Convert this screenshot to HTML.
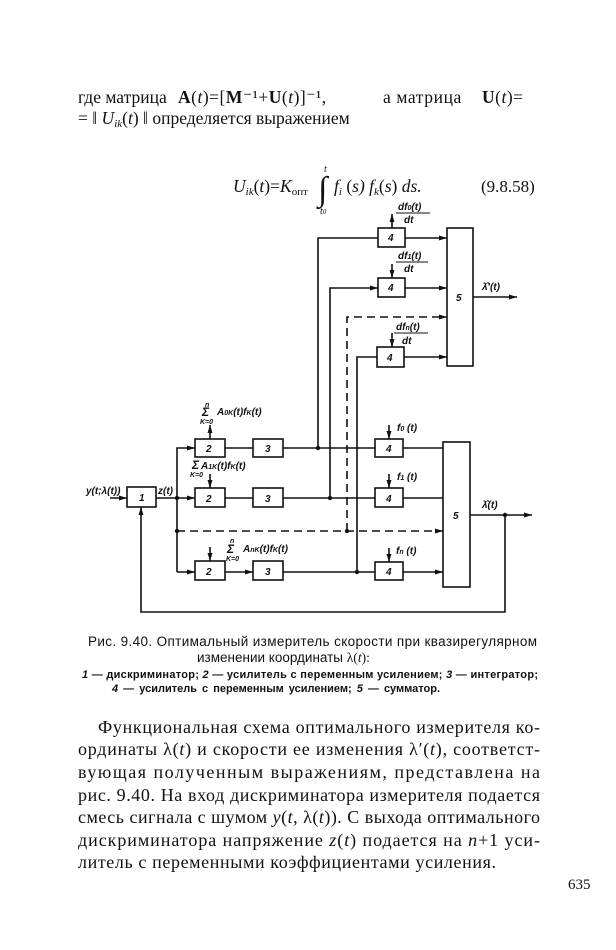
<!DOCTYPE html>
<html><head><meta charset="utf-8"><style>
html,body{margin:0;padding:0;background:#fff}
svg{display:block}
.t{font-family:"Liberation Serif",serif;fill:#111}
.s{font-family:"Liberation Sans",sans-serif;fill:#111}
.i{font-family:"Liberation Sans",sans-serif;font-style:italic;font-weight:bold;fill:#111;font-size:10px}
</style></head><body>
<svg width="616" height="950" viewBox="0 0 616 950" xmlns="http://www.w3.org/2000/svg">
<defs><marker id="a" markerWidth="8" markerHeight="6" refX="8" refY="3" orient="auto" markerUnits="userSpaceOnUse"><path d="M0,0.5 L8,3 L0,5.5z" fill="#111"/></marker></defs>
<g class="t" font-size="17.5">
<text x="78" y="103">где матрица</text>
<text x="178" y="103" letter-spacing="0.5"><tspan font-weight="bold">A</tspan>(<tspan font-style="italic">t</tspan>)=[<tspan font-weight="bold">M</tspan>⁻¹+<tspan font-weight="bold">U</tspan>(<tspan font-style="italic">t</tspan>)]⁻¹,</text>
<text x="383" y="103" letter-spacing="0.6">а  матрица</text>
<text x="482" y="103" letter-spacing="0.5"><tspan font-weight="bold">U</tspan>(<tspan font-style="italic">t</tspan>)=</text>
<text x="78" y="124">= ‖ <tspan font-style="italic">U</tspan><tspan font-size="11" font-style="italic" dy="3">ik</tspan><tspan dy="-3">(</tspan><tspan font-style="italic">t</tspan>) ‖   определяется выражением</text>
</g>
<text class="t" x="233" y="192" font-size="17.5"><tspan font-style="italic">U</tspan><tspan font-size="11" font-style="italic" dy="3">ik</tspan><tspan dy="-3">(</tspan><tspan font-style="italic">t</tspan>)=<tspan font-style="italic">K</tspan><tspan font-size="11" dy="3">опт</tspan></text>
<text class="t" x="334" y="192" font-size="17.5" font-style="italic">f<tspan font-size="11" dy="3">i</tspan><tspan dy="-3" font-style="normal"> (</tspan>s) f<tspan font-size="11" dy="3">k</tspan><tspan dy="-3" font-style="normal">(</tspan>s<tspan font-style="normal">)</tspan> ds.</text>
<text class="t" x="318" y="200" font-size="34">∫</text>
<text class="t" x="324" y="172" font-size="10" font-style="italic">t</text>
<text class="t" x="320" y="214" font-size="10" font-style="italic">t<tspan font-size="7">0</tspan></text>
<text class="t" x="481" y="192" font-size="17">(9.8.58)</text>
<g stroke="#111" stroke-width="1.6" fill="none">
<rect x="378" y="228" width="27" height="19"/>
<rect x="378" y="278" width="27" height="19"/>
<rect x="377" y="347" width="27" height="20"/>
<rect x="447" y="228" width="26" height="138"/>
<rect x="127" y="487" width="29" height="20"/>
<rect x="195" y="439" width="30" height="18"/>
<rect x="195" y="488" width="30" height="19"/>
<rect x="195" y="561" width="30" height="19"/>
<rect x="253" y="439" width="30" height="18"/>
<rect x="253" y="488" width="30" height="19"/>
<rect x="253" y="561" width="30" height="19"/>
<rect x="375" y="439" width="28" height="18"/>
<rect x="375" y="488" width="28" height="19"/>
<rect x="375" y="562" width="28" height="18"/>
<rect x="443" y="442" width="27" height="145"/>
<path d="M318 448 V238 H378"/>
<path d="M405 238 H447" marker-end="url(#a)"/>
<path d="M330 498 V288 H378" marker-end="url(#a)"/>
<path d="M405 288 H447" marker-end="url(#a)"/>
<path d="M347 531 V317 H447" stroke-dasharray="8,5" marker-end="url(#a)"/>
<path d="M357 572 V357 H377"/>
<path d="M404 357 H447" marker-end="url(#a)"/>
<path d="M473 297 H517" marker-end="url(#a)"/>
<path d="M392 228 V214" marker-end="url(#a)"/>
<path d="M392 264 V278" marker-end="url(#a)"/>
<path d="M392 333 V347" marker-end="url(#a)"/>
<path d="M110 498 H127" marker-end="url(#a)"/>
<path d="M156 498 H195" marker-end="url(#a)"/>
<path d="M177 572 V448 H195" marker-end="url(#a)"/>
<path d="M177 572 H195" marker-end="url(#a)"/>
<path d="M177 531 H443" stroke-dasharray="8,5" marker-end="url(#a)"/>
<path d="M225 448 H253 M225 498 H253"/>
<path d="M225 572 H253" marker-end="url(#a)"/>
<path d="M283 448 H375 M283 498 H375 M283 572 H375"/>
<path d="M403 448 H443 M403 498 H443 M403 572 H443" marker-end="url(#a)"/>
<path d="M470 515 H532" marker-end="url(#a)"/>
<path d="M505 515 V612 H141 V507" marker-end="url(#a)"/>
<path d="M210 439 V425" marker-end="url(#a)"/>
<path d="M210 474 V488" marker-end="url(#a)"/>
<path d="M210 547 V561" marker-end="url(#a)"/>
<path d="M389 425 V439" marker-end="url(#a)"/>
<path d="M389 474 V488" marker-end="url(#a)"/>
<path d="M389 548 V562" marker-end="url(#a)"/>
</g>
<g fill="#111"><circle cx="318" cy="448" r="2.2"/><circle cx="330" cy="498" r="2.2"/><circle cx="347" cy="531" r="2.2"/><circle cx="357" cy="572" r="2.2"/><circle cx="177" cy="498" r="2.2"/><circle cx="177" cy="531" r="2.2"/><circle cx="505" cy="515" r="2.2"/></g>
<g class="i">
<text x="388" y="241">4</text><text x="388" y="291">4</text><text x="387" y="361">4</text><text x="456" y="301">5</text>
<text x="139" y="501">1</text><text x="206" y="452">2</text><text x="206" y="502">2</text><text x="206" y="575">2</text>
<text x="265" y="452">3</text><text x="265" y="502">3</text><text x="265" y="575">3</text>
<text x="386" y="452">4</text><text x="386" y="502">4</text><text x="386" y="575">4</text><text x="453" y="519">5</text>
<text x="398" y="210">df<tspan font-size="7">0</tspan>(t)</text><path d="M396 213 H430" stroke="#111"/><text x="404" y="223">dt</text>
<text x="398" y="259">df<tspan font-size="7">1</tspan>(t)</text><path d="M396 262 H428" stroke="#111"/><text x="404" y="272">dt</text>
<text x="396" y="330">df<tspan font-size="7">n</tspan>(t)</text><path d="M394 333 H428" stroke="#111"/><text x="402" y="344">dt</text>
<text x="482" y="290">λ̂′(t)</text><text x="482" y="508">λ̂(t)</text>
<text x="86" y="494">y(t;λ(t))</text><text x="158" y="494">z(t)</text>
<text x="397" y="431">f<tspan font-size="7">0</tspan> (t)</text><text x="397" y="480">f<tspan font-size="7">1</tspan> (t)</text><text x="396" y="554">f<tspan font-size="7">n</tspan> (t)</text>
<text x="205" y="407" font-size="7">n</text><text x="202" y="416" font-size="12">Σ</text><text x="217" y="415">A<tspan font-size="7">0K</tspan>(t)f<tspan font-size="7">K</tspan>(t)</text><text x="200" y="424" font-size="7">K=0</text>
<text x="192" y="469" font-size="12">Σ</text><text x="201" y="469">A<tspan font-size="7">1K</tspan>(t)f<tspan font-size="7">K</tspan>(t)</text><text x="190" y="477" font-size="7">K=0</text>
<text x="230" y="543" font-size="7">n</text><text x="227" y="553" font-size="12">Σ</text><text x="243" y="552">A<tspan font-size="7">nK</tspan>(t)f<tspan font-size="7">K</tspan>(t)</text><text x="226" y="561" font-size="7">K=0</text>
</g>
<text class="s" x="88" y="646" font-size="13.5" textLength="449" lengthAdjust="spacing">Рис. 9.40. Оптимальный измеритель скорости при квазирегулярном</text>
<text class="s" x="197" y="662" font-size="13.5">изменении координаты <tspan font-family="Liberation Serif">λ(<tspan font-style="italic">t</tspan>):</tspan></text>
<text class="s" x="82" y="678" font-size="11" font-weight="bold" textLength="456" lengthAdjust="spacing"><tspan font-style="italic">1</tspan> — дискриминатор; <tspan font-style="italic">2</tspan> —  усилитель с переменным усилением; <tspan font-style="italic">3</tspan> — интегратор;</text>
<text class="s" x="112" y="692" font-size="11" font-weight="bold" word-spacing="2"><tspan font-style="italic">4</tspan> — усилитель с переменным усилением; <tspan font-style="italic">5</tspan> — сумматор.</text>
<g class="t" font-size="18">
<text x="98" y="733" textLength="442" lengthAdjust="spacing">Функциональная схема оптимального измерителя ко-</text>
<text x="78" y="755" textLength="462" lengthAdjust="spacing">ординаты λ(<tspan font-style="italic">t</tspan>) и скорости ее изменения λ′(<tspan font-style="italic">t</tspan>), соответст-</text>
<text x="78" y="778" textLength="462" lengthAdjust="spacing">вующая  полученным  выражениям,  представлена  на</text>
<text x="78" y="801" textLength="462" lengthAdjust="spacing">рис. 9.40. На вход дискриминатора измерителя подается</text>
<text x="78" y="823" textLength="462" lengthAdjust="spacing">смесь сигнала с шумом <tspan font-style="italic">y</tspan>(<tspan font-style="italic">t</tspan>, λ(<tspan font-style="italic">t</tspan>)). С выхода оптимального</text>
<text x="78" y="846" textLength="462" lengthAdjust="spacing">дискриминатора напряжение <tspan font-style="italic">z</tspan>(<tspan font-style="italic">t</tspan>) подается на <tspan font-style="italic">n</tspan>+1 уси-</text>
<text x="78" y="868" textLength="418" lengthAdjust="spacing">литель с переменными коэффициентами усиления.</text>
<text x="568" y="889" font-size="15">635</text>
</g>
</svg>
</body></html>
